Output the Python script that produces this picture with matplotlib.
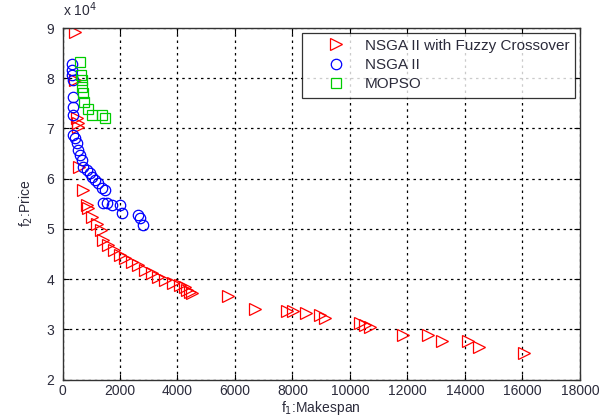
import matplotlib
matplotlib.use("Agg")
import matplotlib.pyplot as plt

plt.rcParams['font.family'] = ['Liberation Sans', 'DejaVu Sans']

# NSGA II with Fuzzy Crossover (red triangles)
fuzzy_x = [430, 450, 500, 540, 540, 575, 710, 850, 890, 1020, 1200, 1340, 1410, 1580,
           1790, 2000, 2170, 2420, 2630, 2870, 3110, 3330, 3570, 3850, 4090, 4260, 4330,
           4440, 4510, 5760, 6700, 7810, 8020, 8470, 8960, 9130, 10350, 10530, 10700,
           11850, 12720, 13200, 14110, 14500, 16060]
fuzzy_y = [89200, 79700, 72000, 71000, 70300, 62300, 57700, 54700, 54100, 52400, 51000,
           49800, 47800, 46800, 45800, 44800, 44200, 43400, 42800, 41800, 41200, 40400,
           39800, 39200, 38800, 38400, 37800, 37400, 37200, 36600, 34000, 33600, 33600,
           33200, 32800, 32200, 31200, 30800, 30400, 28800, 28800, 27600, 27600, 26400,
           25200]

# NSGA II (blue circles)
nsga_x = [330, 330, 330, 365, 365, 365, 365, 365, 430, 500, 540, 610, 680, 710, 850,
          960, 1030, 1130, 1240, 1370, 1480, 1410, 1550, 1720, 2000, 2070, 2630, 2700,
          2800]
nsga_y = [82900, 81600, 80600, 79600, 76200, 74200, 72600, 68700, 68000, 67100, 65700,
          64700, 63700, 62300, 61700, 61100, 60300, 59700, 59100, 58100, 57700, 55100,
          55100, 54700, 54700, 53100, 52700, 52100, 50800]

# MOPSO (green squares)
mopso_x = [610, 640, 680, 680, 710, 750, 890, 1030, 1370, 1480]
mopso_y = [83200, 80600, 79600, 78300, 77000, 75300, 73900, 72700, 72700, 72000]

labels = ["NSGA II with Fuzzy Crossover", "NSGA II", "MOPSO"]
x_ticks = [0, 2000, 4000, 6000, 8000, 10000, 12000, 14000, 16000, 18000]
y_ticks = [2, 3, 4, 5, 6, 7, 8, 9]

txt = '#2b2b3b'
fig = plt.figure(figsize=(6.13, 4.18), dpi=100)
ax = fig.add_axes([0.102, 0.092, 0.844, 0.841])

ax.plot(fuzzy_x, [v / 1e4 for v in fuzzy_y], linestyle='none', marker='>',
        markerfacecolor='none', markeredgecolor='red', markersize=8, mew=0.9,
        label=labels[0])
ax.plot(nsga_x, [v / 1e4 for v in nsga_y], linestyle='none', marker='o',
        markerfacecolor='none', markeredgecolor='blue', markersize=7.5, mew=0.9,
        label=labels[1])
ax.plot(mopso_x, [v / 1e4 for v in mopso_y], linestyle='none', marker='s',
        markerfacecolor='none', markeredgecolor='#00cc00', markersize=7.5, mew=0.9,
        label=labels[2])

ax.set_xlim(0, 18000)
ax.set_ylim(2, 9)
ax.set_xticks(x_ticks)
ax.set_yticks(y_ticks)
ax.set_xticklabels([str(t) for t in x_ticks])
ax.set_yticklabels([str(t) for t in y_ticks])
ax.grid(True, color='black', linestyle=(0, (2, 3)), linewidth=0.9)
ax.tick_params(direction='in', top=True, right=True, length=4, labelsize=10,
               labelcolor=txt, color='black')
ax.tick_params(axis='x', pad=3)
ax.tick_params(axis='y', pad=6)
for s in ax.spines.values():
    s.set_color('#333333')
    s.set_linewidth(1.0)

ax.set_xlabel('f$_1$:Makespan', fontsize=10, color=txt, labelpad=1)
ax.set_ylabel('f$_2$:Price', fontsize=10, color=txt, labelpad=8)
ax.text(0.0, 1.025, 'x 10$^4$', transform=ax.transAxes, fontsize=10, color=txt,
        ha='left', va='bottom')

leg = ax.legend(loc='upper right', fontsize=11, frameon=True, fancybox=False,
                edgecolor='black', borderaxespad=0.3, handletextpad=0.1,
                handlelength=3.6, labelspacing=0.35, borderpad=0.4)
leg.get_frame().set_linewidth(0.9)
for t in leg.get_texts():
    t.set_color(txt)

fig.savefig('out.png', dpi=100)
